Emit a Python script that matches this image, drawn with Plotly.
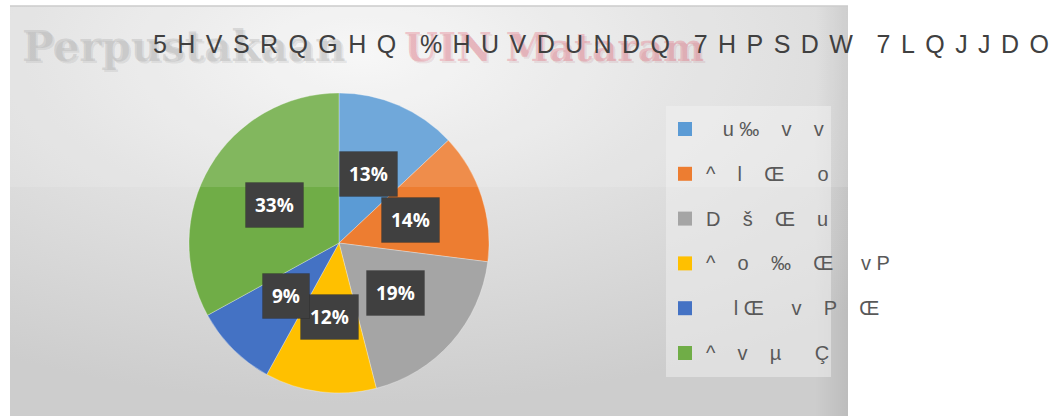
import math
import base64
import plotly.graph_objects as go

W, H = 1050, 416

# ---- data ----
labels = [
    "\u00a0\u00a0\u00a0u\u00a0‰\u00a0\u00a0\u00a0\u00a0v\u00a0\u00a0\u00a0\u00a0v",
    "^\u00a0\u00a0\u00a0\u00a0l\u00a0\u00a0\u00a0\u00a0Œ\u00a0\u00a0\u00a0\u00a0\u00a0\u00a0o",
    "D\u00a0\u00a0\u00a0\u00a0š\u00a0\u00a0\u00a0\u00a0Œ\u00a0\u00a0\u00a0\u00a0u",
    "^\u00a0\u00a0\u00a0\u00a0o\u00a0\u00a0\u00a0\u00a0‰\u00a0\u00a0\u00a0\u00a0Œ\u00a0\u00a0\u00a0\u00a0\u00a0v\u00a0P",
    "\u00a0\u00a0\u00a0\u00a0\u00a0l\u00a0Œ\u00a0\u00a0\u00a0\u00a0\u00a0v\u00a0\u00a0\u00a0\u00a0P\u00a0\u00a0\u00a0\u00a0Œ",
    "^\u00a0\u00a0\u00a0\u00a0v\u00a0\u00a0\u00a0\u00a0µ\u00a0\u00a0\u00a0\u00a0\u00a0\u00a0Ç",
]
values = [13, 14, 19, 12, 9, 33]
colors = ["#5B9BD5", "#ED7D31", "#A5A5A5", "#FFC000", "#4472C4", "#70AD47"]
title_text = "5HVSRQGHQ %HUVDUNDQ 7HPSDW 7LQJJDO"
watermark = ["Perpustakaan", "UIN Mataram"]

# ---- layout geometry (pixels) ----
CX, CY, R = 339, 243, 150
BOX = (10, 6, 848, 416)          # chart area
LEG = (666, 106, 831, 377)       # legend box
LEG_X0, LEG_Y0, LEG_DY = 678, 129, 44.8

def px(x):
    return x / W

def py(y):
    return 1 - y / H

fig = go.Figure()

fig.add_trace(go.Pie(
    labels=labels,
    values=values,
    marker=dict(colors=colors, line=dict(color="rgba(255,255,255,0.6)", width=0.5)),
    sort=False,
    direction="clockwise",
    rotation=0,
    textinfo="none",
    showlegend=False,
    domain=dict(x=[px(CX - R), px(CX + R)], y=[py(CY + R), py(CY - R)]),
))

# ---- background gradient via SVG image ----
bw, bh = BOX[2] - BOX[0], BOX[3] - BOX[1]
svg = (
    f"<svg xmlns='http://www.w3.org/2000/svg' width='{bw}' height='{bh}'>"
    "<defs><radialGradient id='g' cx='0.42' cy='0.12' r='0.85' fx='0.42' fy='0.12'>"
    "<stop offset='0' stop-color='#f6f6f6'/>"
    "<stop offset='0.45' stop-color='#e2e2e2'/>"
    "<stop offset='1' stop-color='#cdcdcd'/>"
    "</radialGradient>"
    "<linearGradient id='r' x1='0' x2='1' y1='0' y2='0'>"
    "<stop offset='0.96' stop-color='#000' stop-opacity='0'/>"
    "<stop offset='1' stop-color='#000' stop-opacity='0.08'/>"
    "</linearGradient></defs>"
    f"<rect width='{bw}' height='{bh}' fill='url(#g)'/>"
    f"<rect width='{bw}' height='{bh}' fill='url(#r)'/>"
    "</svg>"
)
src = "data:image/svg+xml;base64," + base64.b64encode(svg.encode()).decode()
fig.add_layout_image(dict(
    source=src, xref="paper", yref="paper",
    x=px(BOX[0]), y=py(BOX[1]), sizex=bw / W, sizey=bh / H,
    xanchor="left", yanchor="top", sizing="stretch", layer="below",
))

shapes = []
shapes.append(dict(type="line", xref="paper", yref="paper",
                   x0=px(BOX[0]), x1=px(BOX[2]), y0=py(BOX[1]), y1=py(BOX[1]),
                   line=dict(color="#c4c4c4", width=1.5), layer="below"))
shapes.append(dict(type="rect", xref="paper", yref="paper",
                   x0=px(LEG[0]), x1=px(LEG[2]), y0=py(LEG[3]), y1=py(LEG[1]),
                   fillcolor="rgba(238,238,238,0.55)", line=dict(width=0), layer="below"))
shapes.append(dict(type="rect", xref="paper", yref="paper",
                   x0=0, x1=px(BOX[2]), y0=py(187), y1=1,
                   fillcolor="rgba(255,255,255,0.13)", line=dict(width=0), layer="above"))

annotations = []
# watermark text (with soft shadow)
for dx, col0, col1 in [(2, "rgba(120,120,120,0.15)", "rgba(150,40,60,0.10)"),
                       (0, "rgba(170,170,170,0.36)", "rgba(225,80,100,0.28)")]:
    annotations.append(dict(text=watermark[0], xref="paper", yref="paper",
                            x=px(20 + dx), y=py(46 + dx), xanchor="left", yanchor="middle",
                            showarrow=False,
                            font=dict(family="DejaVu Serif", size=42, color=col0, weight="bold")))
    annotations.append(dict(text=watermark[1], xref="paper", yref="paper",
                            x=px(402 + dx), y=py(47 + dx), xanchor="left", yanchor="middle",
                            showarrow=False,
                            font=dict(family="DejaVu Serif", size=39, color=col1, weight="bold")))

# title (letter-spaced)
sp = "\u2004\u200a"
wsep = sp + "\u2009" + "\u2004"
spaced = wsep.join(sp.join(list(w)) for w in title_text.split(" "))
annotations.append(dict(text=spaced, xref="paper", yref="paper",
                        x=px(151), y=py(44), xanchor="left", yanchor="middle",
                        showarrow=False,
                        font=dict(family="Liberation Sans", size=25, color="#404040")))

# legend
for i, (lab, col) in enumerate(zip(labels, colors)):
    yc = LEG_Y0 + i * LEG_DY
    shapes.append(dict(type="rect", xref="paper", yref="paper",
                       x0=px(LEG_X0), x1=px(LEG_X0 + 14), y0=py(yc + 7), y1=py(yc - 7),
                       fillcolor=col, line=dict(width=0)))
    annotations.append(dict(text=lab, xref="paper", yref="paper",
                            x=px(704), y=py(yc), xanchor="left", yanchor="middle",
                            showarrow=False,
                            font=dict(family="Liberation Sans", size=20, color="#595959")))

# data labels at half radius along each slice bisector
total = sum(values)
cum = 0
for v in values:
    mid = (cum + v / 2) / total * 2 * math.pi
    cum += v
    lx = CX + 0.5 * R * math.sin(mid)
    ly = CY - 0.5 * R * math.cos(mid)
    txt = f"{round(v / total * 100)}%"
    annotations.append(dict(text=txt, xref="paper", yref="paper",
                            x=px(lx), y=py(ly), xanchor="center", yanchor="middle",
                            showarrow=False,
                            font=dict(family="Open Sans", size=19, color="white", weight="bold"),
                            bgcolor="#404040", borderpad=9,
                            bordercolor="rgba(0,0,0,0.15)", borderwidth=1))

fig.update_layout(
    width=W, height=H,
    margin=dict(l=0, r=0, t=0, b=0),
    paper_bgcolor="white",
    plot_bgcolor="white",
    shapes=shapes,
    annotations=annotations,
)

fig.write_html("out.html",
               config={"displayModeBar": False},
               post_script="document.body.style.margin='0';document.body.style.overflow='hidden';")
